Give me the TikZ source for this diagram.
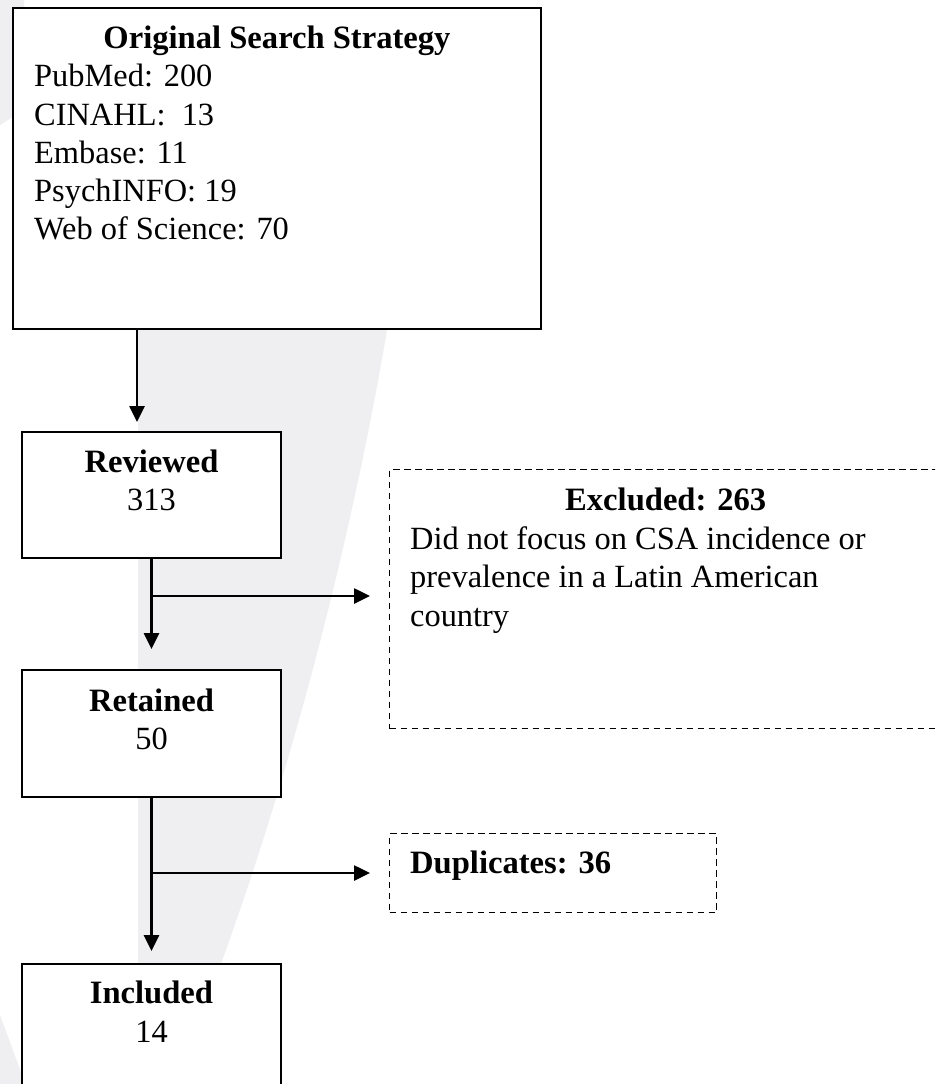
\documentclass[tikz,border=0pt]{standalone}
\usepackage{fontspec}
\setmainfont{Liberation Serif}
\usetikzlibrary{arrows.meta,positioning}
\definecolor{wmgray}{RGB}{239,239,241}
\begin{document}
\begin{tikzpicture}[x=1pt,y=-1pt,
        solidbox/.style={draw, line width=2pt, fill=white, anchor=north west, inner sep=0pt},
        dashbox/.style={draw, line width=1.4pt, dash pattern=on 6.5pt off 4.5pt, fill=white, anchor=north west, inner sep=0pt},
        headtext/.style={font=\fontsize{32.6}{38.5}\selectfont\bfseries, anchor=base, inner sep=0pt},
        bodytext/.style={font=\fontsize{32.4}{38.5}\selectfont, anchor=base, inner sep=0pt},
        flowarrow/.style={line width=2.6pt, -{Triangle[length=16pt,width=15pt]}}]
        \clip (0,0) rectangle (935,1084);
        \fill[white] (0,0) rectangle (935,1084);

        % faint watermark behind the chart
        \fill[wmgray] (0,0) -- (24,0) -- (24,110) -- (0,125) -- cycle;
        \fill[wmgray] (138,300) -- (392,300) .. controls (360,500) and (300,750) .. (215,980) -- (138,980) -- cycle;
        \fill[wmgray] (0,1015) -- (21,1072) -- (21,1084) -- (0,1084) -- cycle;

        \node[solidbox, minimum width=528pt, minimum height=321pt] (search) at (12,7) {};
        \node[headtext] (searchtitle) at ([yshift=-41pt]search.north) {Original Search Strategy};
        \node[bodytext, anchor=base west] (pubmed) at (34,86) {PubMed: 200};
        \node[bodytext, anchor=base west] (cinahl) at (34,125) {CINAHL: \ 13};
        \node[bodytext, anchor=base west] (embase) at (34,163) {Embase: 11};
        \node[bodytext, anchor=base west] (psychinfo) at (34,201) {PsychINFO: 19};
        \node[bodytext, anchor=base west] (wos) at (34,239) {Web of Science: 70};

        \node[solidbox, minimum width=259pt, minimum height=126pt] (reviewed) at (21,431) {};
        \node[headtext] (reviewedtitle) at ([yshift=-41pt]reviewed.north) {Reviewed};
        \node[bodytext] (reviewedcount) at ([yshift=-79pt]reviewed.north) {313};

        \node[dashbox, minimum width=552pt, minimum height=259pt] (excluded) at (389,469) {};
        \node[headtext] (excludedtitle) at ([yshift=-41pt]excluded.north) {Excluded: 263};
        \node[bodytext, anchor=base west] (reason1) at (410,549) {Did not focus on CSA incidence or};
        \node[bodytext, anchor=base west] (reason2) at (410,587.5) {prevalence in a Latin American};
        \node[bodytext, anchor=base west] (reason3) at (410,626) {country};

        \node[solidbox, minimum width=259pt, minimum height=127pt] (retained) at (21,669) {};
        \node[headtext] (retainedtitle) at ([yshift=-42pt]retained.north) {Retained};
        \node[bodytext] (retainedcount) at ([yshift=-80pt]retained.north) {50};

        \node[dashbox, minimum width=327pt, minimum height=79pt] (duplicates) at (389,833) {};
        \node[headtext, anchor=base west] (duplicatestitle) at (410,873) {Duplicates: 36};

        \node[solidbox, minimum width=259pt, minimum height=150pt] (included) at (21,963) {};
        \node[headtext] (includedtitle) at ([yshift=-40pt]included.north) {Included};
        \node[bodytext] (includedcount) at ([yshift=-79pt]included.north) {14};

        \coordinate (drop) at ([xshift=-140pt]search.south);
        \path[draw,flowarrow,shorten >=9pt] (drop) -- (drop |- reviewed.north);
        \path[draw,flowarrow,shorten >=20pt] (reviewed.south) -- (retained.north);
        \coordinate (split1) at ([yshift=-37pt]reviewed.south);
        \path[draw,flowarrow,shorten >=19pt] (split1) -- (split1 -| excluded.west);
        \path[draw,flowarrow,shorten >=12pt] (retained.south) -- (included.north);
        \coordinate (split2) at ([yshift=-75pt]retained.south);
        \path[draw,flowarrow,shorten >=19pt] (split2) -- (split2 -| duplicates.west);
    \end{tikzpicture}
\end{document}
